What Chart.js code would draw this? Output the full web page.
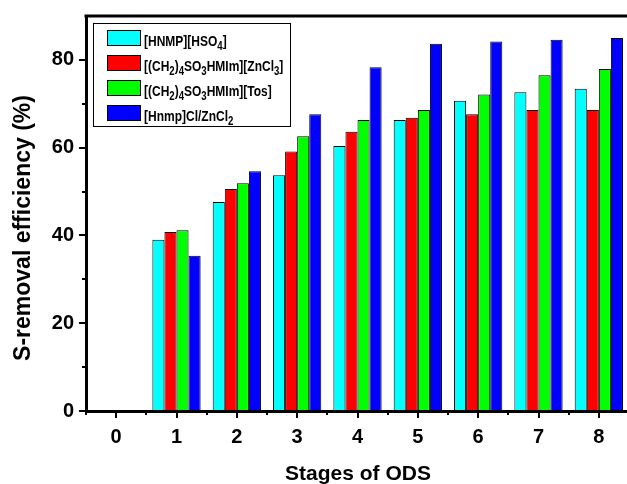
<!DOCTYPE html>
<html>
<head>
<meta charset="utf-8">
<script src="https://cdn.jsdelivr.net/npm/chart.js@4.4.1/dist/chart.umd.min.js"></script>
<style>
  html, body { margin: 0; padding: 0; background: #fff; overflow: hidden; }
  #wrap { width: 632px; height: 484px; }
</style>
</head>
<body>
<div id="wrap"><canvas id="chart" width="632" height="484"></canvas></div>
<script>
const stages = ['0', '1', '2', '3', '4', '5', '6', '7', '8']
const hnmpHso4 = [0, 39.0, 47.6, 53.7, 60.4, 66.3, 70.7, 72.6, 73.4]
const so3ZnCl3 = [0, 40.8, 50.6, 59.1, 63.6, 66.8, 67.6, 68.6, 68.6]
const so3Tos = [0, 41.2, 51.9, 62.6, 66.3, 68.6, 72.1, 76.5, 77.9]
const hnmpZnCl2 = [0, 35.4, 54.6, 67.6, 78.3, 83.7, 84.2, 84.6, 85.0]
const yTicks = [0, 20, 40, 60, 80]
const yMinorTicks = [10, 30, 50, 70]

// legend text pieces: [text, isSubscript]
const legendLabels = [
  [['[HNMP][HSO'], ['4', 1], [']']],
  [['[(CH'], ['2', 1], [')'], ['4', 1], ['SO'], ['3', 1], ['HMIm][ZnCl'], ['3', 1], [']']],
  [['[(CH'], ['2', 1], [')'], ['4', 1], ['SO'], ['3', 1], ['HMIm][Tos]']],
  [['[Hnmp]Cl/ZnCl'], ['2', 1]],
]
const seriesColors = ['#00FFFF', '#FF0000', '#00FF00', '#0000FF']

const FONT = '"Liberation Sans", Arial, sans-serif'

function tick(ctx, x1, y1, x2, y2) {
  ctx.beginPath()
  ctx.moveTo(x1, y1)
  ctx.lineTo(x2, y2)
  ctx.stroke()
}

const frame = {
  id: 'frame',
  afterDraw(chart) {
    const { ctx, chartArea: area, scales: { x, y } } = chart
    ctx.save()
    ctx.strokeStyle = '#000'

    // top axis line
    ctx.lineWidth = 3
    tick(ctx, area.left - 1.5, area.top, area.right, area.top)

    // major + minor ticks
    ctx.lineWidth = 2
    const step = x.getPixelForValue(1) - x.getPixelForValue(0)
    stages.forEach((s, i) => {
      const px = Math.round(x.getPixelForValue(i))
      tick(ctx, px, area.bottom, px, area.bottom + 7)
    })
    for (let i = -1; i < stages.length; i++) {
      const px = Math.round(x.getPixelForValue(0) + step * (i + 0.5))
      tick(ctx, px, area.bottom, px, area.bottom + 4)
    }
    yTicks.forEach(v => {
      const py = Math.round(y.getPixelForValue(v))
      tick(ctx, area.left - 7, py, area.left, py)
    })
    yMinorTicks.forEach(v => {
      const py = Math.round(y.getPixelForValue(v))
      tick(ctx, area.left - 4, py, area.left, py)
    })

    // axis titles
    ctx.fillStyle = '#000'
    ctx.font = 'bold 21px ' + FONT
    ctx.textAlign = 'center'
    ctx.textBaseline = 'alphabetic'
    ctx.fillText('Stages of ODS', 358, 480)
    ctx.save()
    ctx.translate(30, 228)
    ctx.rotate(-Math.PI / 2)
    ctx.font = 'bold 23px ' + FONT
    ctx.fillText('S-removal efficiency (%)', 0, 0)
    ctx.restore()

    // legend box
    ctx.lineWidth = 1
    ctx.fillStyle = '#fff'
    ctx.fillRect(93.5, 23.5, 197, 103)
    ctx.strokeRect(93.5, 23.5, 197, 103)
    ctx.textAlign = 'left'
    legendLabels.forEach((parts, i) => {
      const top = 30.5 + 25 * i
      ctx.fillStyle = seriesColors[i]
      ctx.fillRect(107.5, top, 33, 15)
      ctx.strokeRect(107.5, top, 33, 15)
      ctx.save()
      ctx.translate(144, top + 15.5)
      ctx.scale(0.8, 1)
      ctx.fillStyle = '#000'
      let cx = 0
      parts.forEach(([txt, sub]) => {
        ctx.font = sub ? 'bold 12px ' + FONT : 'bold 15px ' + FONT
        ctx.fillText(txt, cx, sub ? 4 : 0)
        cx += ctx.measureText(txt).width
      })
      ctx.restore()
    })
    ctx.restore()
  },
}

const tickFont = { family: FONT, size: 20, weight: 'bold' }

new Chart(document.getElementById('chart').getContext('2d'), {
  type: 'bar',
  data: {
    labels: stages,
    datasets: [
      { label: '[HNMP][HSO4]', data: hnmpHso4 },
      { label: '[(CH2)4SO3HMIm][ZnCl3]', data: so3ZnCl3 },
      { label: '[(CH2)4SO3HMIm][Tos]', data: so3Tos },
      { label: '[Hnmp]Cl/ZnCl2', data: hnmpZnCl2 },
    ].map((ds, i) => ({
      ...ds,
      backgroundColor: seriesColors[i],
      borderColor: '#000',
      borderWidth: 1,
      categoryPercentage: 0.8,
      barPercentage: 1,
    })),
  },
  options: {
    responsive: false,
    animation: false,
    layout: { padding: { top: 16, right: 3, left: 0, bottom: 0 } },
    plugins: { legend: { display: false }, tooltip: { enabled: false } },
    scales: {
      x: {
        offset: true,
        // ticks drawn by the frame plugin; tickLength only spaces the labels
        grid: { display: false, drawTicks: true, tickLength: 14 },
        border: { display: true, color: '#000', width: 3, z: 1 },
        ticks: { color: '#000', padding: 0, font: tickFont, maxRotation: 0, autoSkip: false },
        afterFit: s => { s.height = 73 },
      },
      y: {
        min: 0,
        max: 90,
        afterBuildTicks: s => { s.ticks = yTicks.map(v => ({ value: v })) },
        grid: { display: false, drawTicks: true, tickLength: 12 },
        border: { display: true, color: '#000', width: 3, z: 1 },
        ticks: { color: '#000', padding: 0, font: tickFont },
        afterFit: s => { s.width = 86 },
      },
    },
  },
  plugins: [frame],
})
</script>
</body>
</html>
